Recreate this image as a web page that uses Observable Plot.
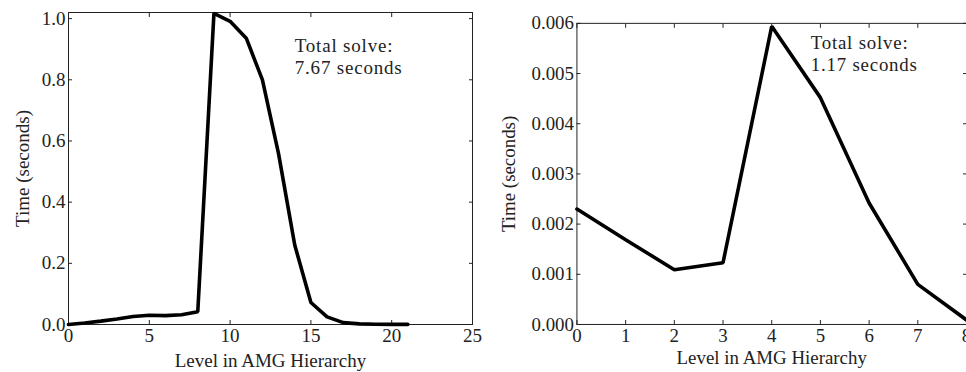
<!DOCTYPE html>
<html>
<head>
<meta charset="utf-8">
<script src="https://cdn.jsdelivr.net/npm/d3@7"></script>
<script src="https://cdn.jsdelivr.net/npm/@observablehq/plot@0.6"></script>
<style>
  html, body { margin: 0; padding: 0; background: #fff; }
  #wrap { position: relative; width: 966px; height: 372px; overflow: hidden; }
  #left { position: absolute; left: 0; top: 0; }
  #right { position: absolute; left: 486px; top: 0; }
  svg text { font-family: 'Liberation Serif', serif; }
  .lbl text, text.lbl { letter-spacing: 0.8px; }
</style>
</head>
<body>
<div id="wrap"><div id="left"></div><div id="right"></div></div>
<script>
// Left panel: large problem
const leftLevels = [0,1,2,3,4,5,6,7,8,9,10,11,12,13,14,15,16,17,18,19,20,21];
const leftTimes  = [0.000,0.005,0.011,0.018,0.026,0.030,0.029,0.032,0.042,1.017,0.991,0.936,0.800,0.558,0.260,0.072,0.025,0.006,0.002,0.001,0.0005,0.0003];
const leftXTicks = [0,5,10,15,20,25];
const leftYTicks = [0,0.2,0.4,0.6,0.8,1.0];
const leftNote = "Total solve:\n7.67 seconds";

// Right panel: small problem
const rightLevels = [0,1,2,3,4,5,6,7,8];
const rightTimes  = [0.00230,0.00169,0.00109,0.00123,0.00594,0.00452,0.00242,0.00080,0.00009];
const rightXTicks = [0,1,2,3,4,5,6,7,8];
const rightYTicks = [0,0.001,0.002,0.003,0.004,0.005,0.006];
const rightNote = "Total solve:\n1.17 seconds";

const xLabel = "Level in AMG Hierarchy";
const yLabel = "Time (seconds)";

const FS = 19;
const font = {fontFamily: "'Liberation Serif', serif", fontSize: FS + "px", color: "#222", background: "transparent"};

function panel({levels, times, xTicks, yTicks, yFmt, xDomain, yDomain, note, noteX, noteY, xLabelOffset, width, height, margins}) {
  const data = levels.map((l, i) => ({level: l, time: times[i]}));
  return Plot.plot({
    width, height,
    marginLeft: margins[0], marginTop: margins[1], marginRight: margins[2], marginBottom: margins[3],
    style: font,
    x: {domain: xDomain},
    y: {domain: yDomain},
    marks: [
      Plot.frame({stroke: "#222", strokeWidth: 1}),
      // inward ticks on all four sides
      Plot.axisX({ticks: xTicks, anchor: "bottom", tickSize: 4, dy: -4, text: null, label: null, stroke: "#222"}),
      Plot.axisX({ticks: xTicks, anchor: "top", tickSize: 4, dy: 4, text: null, label: null, stroke: "#222"}),
      Plot.axisY({ticks: yTicks, anchor: "left", tickSize: 4, dx: 4, text: null, label: null, stroke: "#222"}),
      Plot.axisY({ticks: yTicks, anchor: "right", tickSize: 4, dx: -4, text: null, label: null, stroke: "#222"}),
      // tick labels
      Plot.axisX({ticks: xTicks, anchor: "bottom", tickSize: 0, tickPadding: 4, tickFormat: d3.format("d"),
                  fontSize: FS, label: null}),
      Plot.axisY({ticks: yTicks, anchor: "left", tickSize: 0, tickPadding: 3, tickFormat: yFmt,
                  fontSize: FS, label: null}),
      // axis labels
      Plot.axisX({ticks: [], anchor: "bottom", tickSize: 0, fontSize: FS, className: "lbl",
                  label: xLabel, labelAnchor: "center", labelArrow: "none", labelOffset: xLabelOffset}),
      Plot.axisY({ticks: [], anchor: "left", tickSize: 0, fontSize: FS, className: "lbl",
                  label: yLabel, labelAnchor: "center", labelArrow: "none", labelOffset: margins[0] - 15}),
      Plot.line(data, {x: "level", y: "time", stroke: "#000", strokeWidth: 3.6, strokeLinejoin: "miter"}),
      Plot.text([note], {x: noteX, y: noteY, text: d => d, textAnchor: "start", lineAnchor: "top",
                         lineHeight: 1.15, fontSize: FS, fill: "#222", className: "lbl"})
    ]
  });
}

document.getElementById("left").appendChild(panel({
  levels: leftLevels, times: leftTimes, xTicks: leftXTicks, yTicks: leftYTicks,
  yFmt: d3.format(".1f"), xDomain: [0, 25], yDomain: [0, 1.02],
  note: leftNote, noteX: 14, noteY: 0.94, xLabelOffset: 42,
  width: 486, height: 372, margins: [68, 12, 14, 48]
}));

document.getElementById("right").appendChild(panel({
  levels: rightLevels, times: rightTimes, xTicks: rightXTicks, yTicks: rightYTicks,
  yFmt: d3.format(".3f"), xDomain: [0, 8], yDomain: [0, 0.006],
  note: rightNote, noteX: 4.8, noteY: 0.00579, xLabelOffset: 40,
  width: 483, height: 372, margins: [91, 23, 0, 46]
}));
</script>
</body>
</html>
